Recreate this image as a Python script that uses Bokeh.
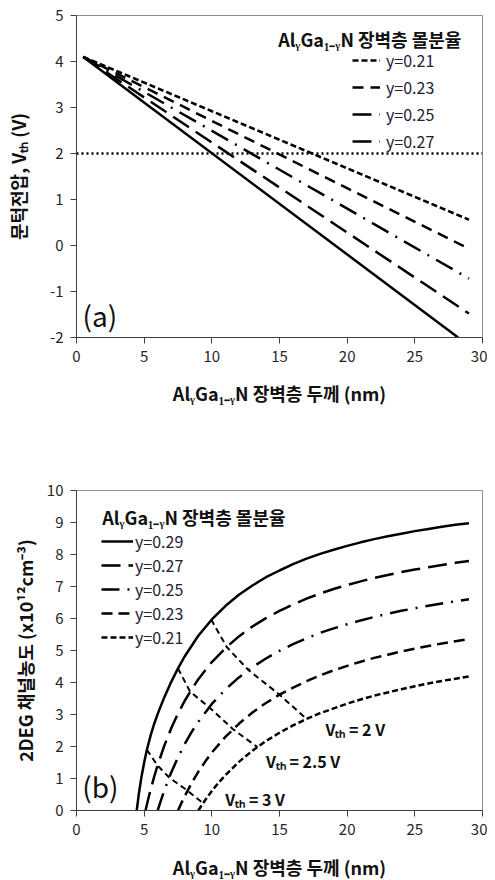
from bokeh.plotting import figure
from bokeh.models import Legend, LegendItem, Label, Range1d, FixedTicker
from bokeh.layouts import column
from bokeh.embed import file_html
from bokeh.resources import INLINE

FONT = "Noto Sans CJK KR"
TXT = "#262626"
LEG = "#1e2038"

# ---------------- data: panel (a) threshold voltage vs barrier thickness ----------------
a_names = ["y=0.21", "y=0.23", "y=0.25", "y=0.27", "y=0.29"]
a_x = [[0.5, 29.0], [0.5, 29.0], [0.5, 29.0], [0.5, 29.0], [0.5, 28.2]]
a_v = [[4.1, 0.56], [4.1, -0.07], [4.1, -0.72], [4.1, -1.48], [4.1, -2.0]]
a_ref_v = 2.0
a_xticks = [0, 5, 10, 15, 20, 25, 30]
a_yticks = [-2, -1, 0, 1, 2, 3, 4, 5]

# ---------------- data: panel (b) 2DEG density vs barrier thickness ----------------
b_names = ["y=0.29", "y=0.27", "y=0.25", "y=0.23", "y=0.21"]
b29_x = [4.45, 4.6, 4.8, 5.0, 5.2, 5.5, 5.75, 6.0, 6.5, 7.0, 7.5, 8.0, 9.0, 10, 11, 12, 13, 14,
         15, 16, 17, 18, 19, 20, 21, 22, 23, 24, 25, 26, 27, 28, 29]
b29_n = [0.0, 0.5, 1.05, 1.5, 1.9, 2.38, 2.72, 3.02, 3.55, 4.02, 4.44, 4.82, 5.46, 5.97, 6.39,
         6.74, 7.03, 7.29, 7.50, 7.70, 7.87, 8.02, 8.15, 8.27, 8.38, 8.48, 8.57, 8.65, 8.73,
         8.80, 8.87, 8.93, 8.98]
b27_x = [5.1, 5.3, 5.5, 5.75, 6.0, 6.5, 7.0, 7.5, 8.0, 8.5, 9.0, 10, 11, 12, 13, 14, 15, 16,
         17, 18, 19, 20, 21, 22, 23, 24, 25, 26, 27, 28, 29]
b27_n = [0.0, 0.36, 0.69, 1.07, 1.42, 2.04, 2.57, 3.03, 3.43, 3.78, 4.10, 4.64, 5.07, 5.44,
         5.75, 6.01, 6.24, 6.44, 6.62, 6.78, 6.92, 7.05, 7.16, 7.27, 7.36, 7.45, 7.53, 7.60,
         7.67, 7.74, 7.80]
b25_x = [6.0, 6.25, 6.5, 7.0, 7.5, 8.0, 8.5, 9.0, 10, 11, 12, 13, 14, 15, 16, 17, 18, 19, 20,
         21, 22, 23, 24, 25, 26, 27, 28, 29]
b25_n = [0.0, 0.33, 0.64, 1.19, 1.66, 2.08, 2.45, 2.77, 3.33, 3.78, 4.16, 4.48, 4.75, 4.99,
         5.20, 5.38, 5.55, 5.69, 5.82, 5.94, 6.05, 6.15, 6.24, 6.32, 6.40, 6.47, 6.54, 6.60]
b23_x = [7.5, 7.75, 8.0, 8.5, 9.0, 9.5, 10, 11, 12, 13, 14, 15, 16, 17, 18, 19, 20, 21, 22,
         23, 24, 25, 26, 27, 28, 29]
b23_n = [0.0, 0.23, 0.45, 0.85, 1.21, 1.52, 1.81, 2.30, 2.71, 3.06, 3.36, 3.62, 3.84, 4.04,
         4.22, 4.38, 4.52, 4.65, 4.77, 4.87, 4.97, 5.06, 5.14, 5.22, 5.29, 5.36]
b21_x = [9.0, 9.25, 9.5, 10, 10.5, 11, 12, 13, 14, 15, 16, 17, 18, 19, 20, 21, 22, 23, 24, 25,
         26, 27, 28, 29]
b21_n = [0.0, 0.16, 0.32, 0.61, 0.87, 1.10, 1.52, 1.87, 2.17, 2.43, 2.66, 2.86, 3.04, 3.19,
         3.34, 3.47, 3.59, 3.69, 3.79, 3.88, 3.97, 4.05, 4.12, 4.19]
b_x = [b29_x, b27_x, b25_x, b23_x, b21_x]
b_n = [b29_n, b27_n, b25_n, b23_n, b21_n]

vth_names = ["Vₜₕ = 2 V", "Vₜₕ = 2.5 V", "Vₜₕ = 3 V"]
vth_x = [[9.95, 11.1, 12.7, 15.0, 17.0],
         [7.5, 8.4, 9.8, 11.57, 13.37],
         [5.2, 5.98, 6.85, 8.2, 9.36]]
vth_n = [[5.97, 5.11, 4.39, 3.62, 2.86],
         [4.44, 3.71, 3.23, 2.54, 1.98],
         [1.9, 1.41, 1.03, 0.62, 0.23]]
vth_label_pos = [(18.4, 2.55), (14.0, 1.55), (11.0, 0.37)]
b_xticks = [0, 5, 10, 15, 20, 25, 30]
b_yticks = list(range(0, 11))

XLABEL = "AlᵧGa₁₋ᵧN 장벽층 두께 (nm)"
LEGTITLE = "AlᵧGa₁₋ᵧN 장벽층 몰분율"


def style(p, xticks, yticks, ylabel, standoff, xstandoff):
    p.xgrid.visible = False
    p.ygrid.visible = False
    p.outline_line_color = "#8c8c8c"
    p.outline_line_width = 1
    p.xaxis.ticker = FixedTicker(ticks=xticks)
    p.yaxis.ticker = FixedTicker(ticks=yticks)
    p.yaxis.major_label_overrides = {t: str(t) for t in yticks}
    for ax in (p.xaxis[0], p.yaxis[0]):
        ax.axis_line_color = "#404040"
        ax.major_tick_line_color = "#404040"
        ax.major_tick_out = 6
        ax.major_tick_in = 0
        ax.minor_tick_line_color = None
        ax.major_label_text_font = FONT
        ax.major_label_text_font_size = "15px"
        ax.major_label_text_color = TXT
        ax.major_label_standoff = 7
        ax.axis_label_text_font = FONT
        ax.axis_label_text_font_size = "18px"
        ax.axis_label_text_font_style = "bold"
        ax.axis_label_text_color = "#111111"
    p.xaxis.axis_label = XLABEL
    p.xaxis.axis_label_standoff = xstandoff
    p.yaxis.axis_label = ylabel
    p.yaxis.axis_label_standoff = standoff


# ---------------- panel (a) ----------------
pa = figure(frame_width=406, frame_height=322, min_border_left=76, min_border_right=5,
            min_border_top=15, min_border_bottom=103,
            x_range=Range1d(0, 30), y_range=Range1d(-2, 5),
            output_backend="svg", toolbar_location=None)
style(pa, a_xticks, a_yticks, "문턱전압, Vₜₕ (V)", 16, 15)
pa.line([0, 30], [a_ref_v, a_ref_v], line_color="black", line_width=2.5, line_dash="2 3")
a_dash = ["6 3", "11 7", "19 8 2 8", "19 8", "solid"]
a_items = []
for name, xs, vs, d in zip(a_names, a_x, a_v, a_dash):
    r = pa.line(xs, vs, line_color="black", line_width=2.5, line_dash=d)
    if name != "y=0.29":
        a_items.append(LegendItem(label=name, renderers=[r]))
leg_a = Legend(items=a_items, location=(276, 184), orientation="vertical",
               glyph_width=28, glyph_height=20, label_height=20, spacing=3,
               padding=0, margin=0, label_standoff=6,
               label_text_font=FONT, label_text_font_size="16px", label_text_color=LEG,
               background_fill_alpha=0, border_line_alpha=0)
pa.add_layout(leg_a)
pa.add_layout(Label(x=14.9, y=4.5, text=LEGTITLE, text_font=FONT, text_font_size="18px",
                    text_font_style="bold", text_color="#111111", text_baseline="middle"))
pa.add_layout(Label(x=0.45, y=-1.52, text="(a)", text_font=FONT, text_font_size="28px",
                    text_color="#111111", text_baseline="middle"))

# ---------------- panel (b) ----------------
pb = figure(frame_width=406, frame_height=320, min_border_left=76, min_border_right=5,
            min_border_top=50, min_border_bottom=66,
            x_range=Range1d(0, 30), y_range=Range1d(0, 10),
            output_backend="svg", toolbar_location=None)
style(pb, b_xticks, b_yticks, "2DEG 채널농도 (x10¹²cm⁻³)", 6, 16)
b_dash = ["solid", "19 8", "18 8 2 8", "11 6", "6 3"]
b_items = []
for name, xs, ns, d in zip(b_names, b_x, b_n, b_dash):
    r = pb.line(xs, ns, line_color="black", line_width=2.5, line_dash=d)
    b_items.append(LegendItem(label=name, renderers=[r]))
for xs, ns in zip(vth_x, vth_n):
    pb.line(xs, ns, line_color="black", line_width=2, line_dash="6 4")
for name, (lx, ly) in zip(vth_names, vth_label_pos):
    pb.add_layout(Label(x=lx, y=ly, text=name, text_font=FONT, text_font_size="16px",
                        text_font_style="bold", text_color="#111111", text_baseline="middle"))
leg_b = Legend(items=b_items, location=(25, 161), orientation="vertical",
               glyph_width=32, glyph_height=20, label_height=20, spacing=-2,
               padding=0, margin=0, label_standoff=2,
               label_text_font=FONT, label_text_font_size="16px", label_text_color=LEG,
               background_fill_alpha=0, border_line_alpha=0)
pb.add_layout(leg_b)
pb.add_layout(Label(x=1.9, y=9.16, text=LEGTITLE, text_font=FONT, text_font_size="18px",
                    text_font_style="bold", text_color="#111111", text_baseline="middle"))
pb.add_layout(Label(x=0.42, y=0.78, text="(b)", text_font=FONT, text_font_size="28px",
                    text_color="#111111", text_baseline="middle"))

layout = column(pa, pb, spacing=0)
open("out.html", "w").write(file_html(layout, INLINE))
